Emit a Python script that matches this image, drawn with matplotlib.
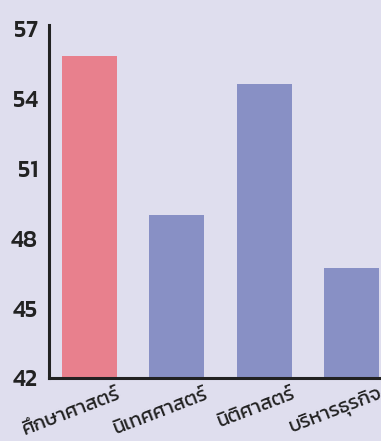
import matplotlib
matplotlib.use('Agg')
import matplotlib.pyplot as plt
import matplotlib.transforms as mtransforms

plt.rcParams['font.family'] = ['Kanit', 'DejaVu Sans']

# ข้อมูล
faculties = ['ศึกษาศาสตร์', 'นิเทศศาสตร์', 'นิติศาสตร์', 'บริหารธุรกิจ']
scores = [55.8, 49.0, 54.6, 46.7]
colors = ['#e8808d', '#8890c5', '#8890c5', '#8890c5']
y_ticks = [42, 45, 48, 51, 54, 57]

bg = '#dfdeee'
fig = plt.figure(figsize=(3.81, 4.41), dpi=100, facecolor=bg)
ax = fig.add_axes([49 / 381, 63 / 441, 332 / 381, 353 / 441])
ax.set_facecolor(bg)

x = list(range(len(faculties)))
ax.bar(x, scores, width=0.63, color=colors, zorder=2)

ax.set_ylim(42, 57.13)
ax.set_xlim(-0.464, 3.34)
ax.set_yticks(y_ticks)
ax.set_yticklabels([str(t) for t in y_ticks], fontsize=17, fontweight='medium', color='#222222')
ax.tick_params(axis='y', length=0, pad=8)
ax.tick_params(axis='x', length=0, pad=5)

ax.set_xticks(x)
ax.set_xticklabels(faculties, fontsize=14.5, color='#222222', rotation=21,
                   ha='right', va='top', rotation_mode='anchor')
offset = mtransforms.ScaledTranslation(0.27, 0, fig.dpi_scale_trans)
for lab in ax.get_xticklabels():
    lab.set_transform(lab.get_transform() + offset)

for side in ['top', 'right']:
    ax.spines[side].set_visible(False)
for side in ['left', 'bottom']:
    ax.spines[side].set_linewidth(2.2)
    ax.spines[side].set_color('#222222')

fig.savefig('out.png', dpi=100, facecolor=bg)
